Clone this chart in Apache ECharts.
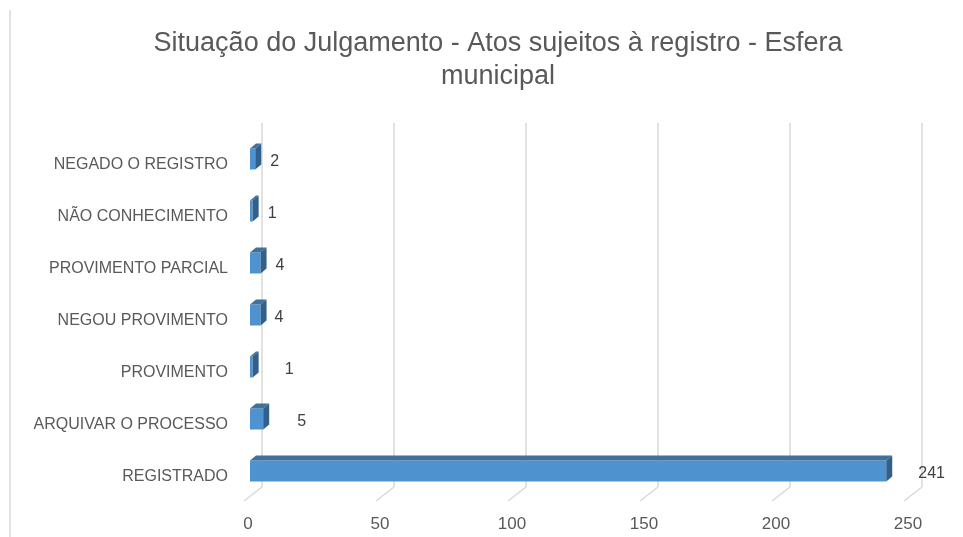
<!DOCTYPE html>
<html>
<head>
<meta charset="utf-8">
<script src="https://cdn.jsdelivr.net/npm/echarts@6/dist/echarts.min.js"></script>
<style>
  html, body { margin: 0; padding: 0; background: #fff; }
  #main { width: 963px; height: 537px; }
</style>
</head>
<body>
<div id="main"></div>
<script>
// dados do grafico
var categorias = ['NEGADO O REGISTRO', 'NÃO CONHECIMENTO', 'PROVIMENTO PARCIAL',
    'NEGOU PROVIMENTO', 'PROVIMENTO', 'ARQUIVAR O PROCESSO', 'REGISTRADO'];
var valores = [2, 1, 4, 4, 1, 5, 241];
var ticks = [0, 50, 100, 150, 200, 250];

// deslocamento dos rotulos (estilo, como no Excel)
var rotuloGap = [9, 9, 9, 8, 26, 28, 26];

var fonte = '"Liberation Sans", Arial, sans-serif';
var corFrente = '#4e93cf', corTopo = '#41709b', corLado = '#32608a';

var myChart = echarts.init(document.getElementById('main'));

function desenhaBarra(params, api) {
    var idx = api.value(1);
    var v = api.value(0);
    var p0 = api.coord([0, idx]);
    var p1 = api.coord([v, idx]);
    var h = 21, dx = 6, dy = 5;
    var x0 = p0[0] - 12, x1 = p1[0] - 12;
    var cy = p0[1] + 10, y0 = cy - h / 2;
    return {
        type: 'group',
        children: [{
            type: 'rect',
            shape: {x: x0, y: y0, width: x1 - x0, height: h},
            style: {fill: corFrente}
        }, {
            type: 'polygon',
            shape: {points: [[x0, y0], [x0 + dx, y0 - dy], [x1 + dx, y0 - dy], [x1, y0]]},
            style: {fill: corTopo}
        }, {
            type: 'polygon',
            shape: {points: [[x1, y0], [x1 + dx, y0 - dy], [x1 + dx, y0 + h - dy], [x1, y0 + h]]},
            style: {fill: corLado}
        }, {
            type: 'text',
            style: {
                x: x1 + dx + rotuloGap[params.dataIndex], y: cy + 3,
                text: String(v), fill: '#404040',
                font: '16px ' + fonte, verticalAlign: 'middle', align: 'left'
            }
        }]
    };
}

// linhas inclinadas do piso
function desenhaPiso(params, api) {
    var p = api.coord([api.value(0), 0]);
    var yb = params.coordSys.y + params.coordSys.height;
    return {
        type: 'line',
        shape: {x1: p[0], y1: yb, x2: p[0] - 18, y2: yb + 14},
        style: {stroke: '#d9d9d9', lineWidth: 1.5}
    };
}

var option = {
    backgroundColor: '#fff',
    animation: false,
    title: {
        text: 'Situação do Julgamento - Atos sujeitos à registro - Esfera\nmunicipal',
        left: 493,
        textAlign: 'center',
        top: 22,
        textStyle: {
            color: '#595959', fontFamily: fonte, fontSize: 27,
            fontWeight: 'normal', lineHeight: 33
        }
    },
    graphic: [{
        type: 'line',
        shape: {x1: 10, y1: 10, x2: 10, y2: 537},
        style: {stroke: '#d9d9d9', lineWidth: 1.5}
    }],
    grid: {left: 262, right: 41, top: 123, bottom: 50},
    xAxis: {
        type: 'value',
        min: 0, max: 250, interval: 50,
        axisLine: {show: false},
        axisTick: {show: false},
        splitLine: {show: true, lineStyle: {color: '#d9d9d9', width: 1.5}},
        axisLabel: {
            color: '#595959', fontFamily: fonte, fontSize: 17,
            margin: 29, padding: [0, 28, 0, 0]
        }
    },
    yAxis: {
        type: 'category',
        data: categorias,
        inverse: true,
        axisLine: {show: false},
        axisTick: {show: false},
        splitLine: {show: false},
        axisLabel: {
            color: '#595959', fontFamily: fonte, fontSize: 16,
            margin: 34, verticalAlign: 'top', lineHeight: 32
        }
    },
    series: [{
        type: 'custom',
        renderItem: desenhaPiso,
        silent: true,
        data: ticks.map(function (t) { return [t]; }),
        encode: {x: 0}
    }, {
        type: 'custom',
        renderItem: desenhaBarra,
        z: 3,
        data: valores.map(function (v, i) { return [v, i]; }),
        encode: {x: 0, y: 1}
    }]
};
myChart.setOption(option);
</script>
</body>
</html>
